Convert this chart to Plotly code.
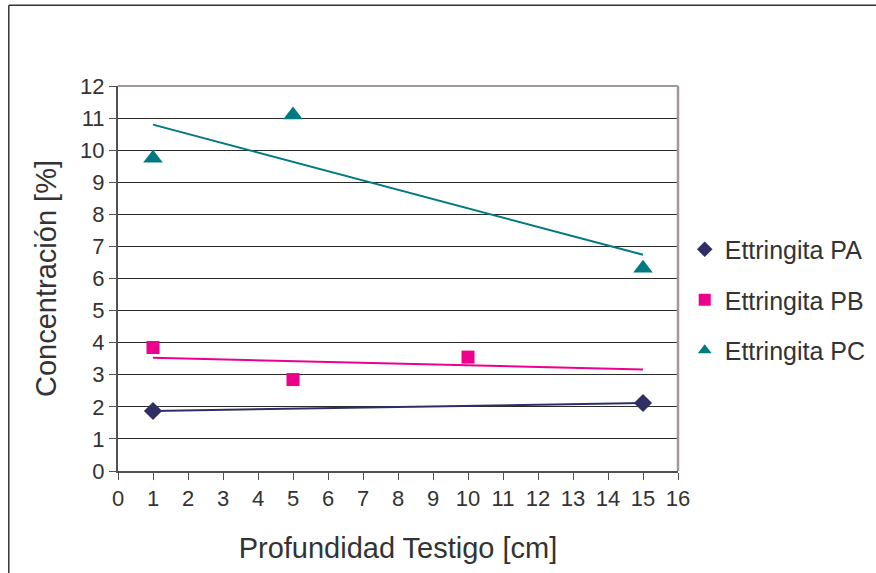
import numpy as np
import plotly.graph_objects as go

# Measured ettringite content by core depth
depth_pa = [1, 15]
conc_pa = [1.87, 2.12]

depth_pb = [1, 5, 10]
conc_pb = [3.85, 2.85, 3.55]

depth_pc = [1, 5, 15]
conc_pc = [9.75, 11.1, 6.32]

series_names = ["Ettringita PA", "Ettringita PB", "Ettringita PC"]
series_colors = ["#2f2f66", "#ec008c", "#007a80"]
series_symbols = ["diamond", "square", "triangle-up"]
series_sizes = [14, 13, 17]

x_ticks = list(range(0, 17))
y_ticks = list(range(0, 13))

FONT = "Liberation Sans, Arial, sans-serif"

fig = go.Figure()

datasets = [(depth_pa, conc_pa), (depth_pb, conc_pb), (depth_pc, conc_pc)]

# Linear trend lines drawn across the full sampled depth range
all_depths = depth_pa + depth_pb + depth_pc
trend_x = [min(all_depths), max(all_depths)]
for (xs, ys), color in zip(datasets, series_colors):
    slope, intercept = np.polyfit(xs, ys, 1)
    yl = [slope * v + intercept for v in trend_x]
    fig.add_trace(go.Scatter(
        x=trend_x, y=yl, mode="lines",
        line=dict(color=color, width=2),
        showlegend=False, hoverinfo="skip",
    ))

for (xs, ys), name, color, sym, size in zip(datasets, series_names, series_colors,
                                             series_symbols, series_sizes):
    fig.add_trace(go.Scatter(
        x=xs, y=ys, mode="markers", name=name, legendgroup=name,
        marker=dict(color=color, symbol=sym, size=size, line=dict(width=0)),
    ))

# Outer chart frame (left and top edges)
fig.add_shape(type="line", xref="paper", yref="paper",
              x0=-0.195, x1=-0.195, y0=1.21, y1=-0.3,
              line=dict(color="#333333", width=1.5))
fig.add_shape(type="line", xref="paper", yref="paper",
              x0=-0.195, x1=1.4, y0=1.21, y1=1.21,
              line=dict(color="#333333", width=1.5))

# Plot area border on top and right
fig.add_shape(type="line", xref="paper", yref="paper",
              x0=0, x1=1, y0=1, y1=1,
              line=dict(color="#a09898", width=2))
fig.add_shape(type="line", xref="paper", yref="paper",
              x0=1, x1=1, y0=0, y1=1,
              line=dict(color="#a09898", width=2.5))

fig.update_xaxes(
    range=[0, 16], tickvals=x_ticks, ticktext=[str(v) for v in x_ticks],
    showgrid=False, zeroline=False,
    showline=True, linecolor="#555050", linewidth=2,
    ticks="outside", ticklen=7, tickcolor="#555050", tickwidth=1,
    tickfont=dict(family=FONT, size=22, color="#333333"),
    title=dict(text="Profundidad Testigo [cm]", standoff=27,
               font=dict(family=FONT, size=29, color="#333333")),
)
fig.update_yaxes(
    range=[0, 12], tickvals=y_ticks, ticktext=[str(v) for v in y_ticks],
    showgrid=True, gridcolor="#2a2a2a", gridwidth=1,
    zeroline=False,
    showline=True, linecolor="#555050", linewidth=2,
    ticks="outside", ticklen=7, tickcolor="#555050", tickwidth=1,
    tickfont=dict(family=FONT, size=22, color="#333333"),
    title=dict(text="Concentración [%]", standoff=15,
               font=dict(family=FONT, size=29, color="#333333")),
)

fig.update_layout(
    width=876, height=573,
    margin=dict(l=118, r=198, t=86, b=102, autoexpand=False),
    paper_bgcolor="white", plot_bgcolor="white",
    legend=dict(
        x=1.012, y=0.635, xanchor="left", yanchor="top",
        font=dict(family=FONT, size=25, color="#333333"),
        tracegroupgap=15, itemsizing="constant",
        bgcolor="rgba(0,0,0,0)",
    ),
)

fig.write_html("out.html")
